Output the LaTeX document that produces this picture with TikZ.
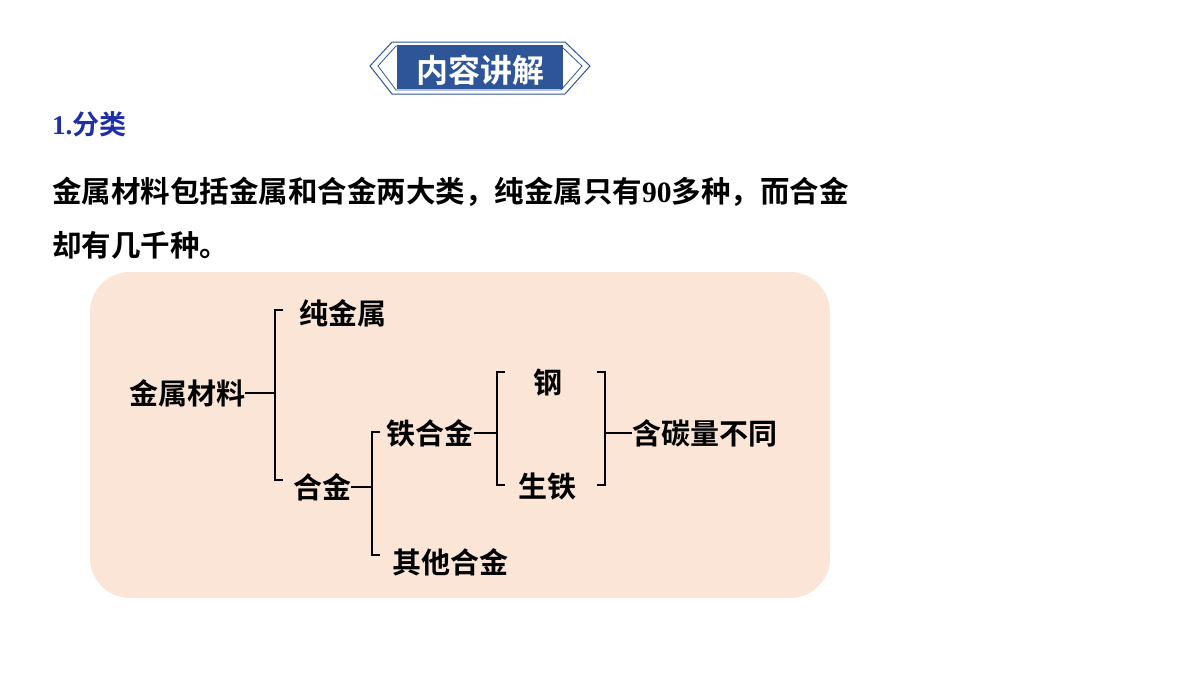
\documentclass[tikz,border=0pt]{standalone}
\usepackage{fontspec}
\newfontfamily\cjk{Noto Sans CJK SC Bold}
\newfontfamily\ser{Liberation Serif}
\definecolor{peach}{HTML}{FBE5D6}
\definecolor{bblue}{HTML}{2E5597}
\definecolor{tblue}{HTML}{1F2FA8}
\begin{document}
\begin{tikzpicture}[x=1pt,y=-1pt,
  lbl/.style={font=\cjk\fontsize{29}{32}\selectfont,inner sep=0pt},
  br/.style={line width=1.3pt}]
\useasboundingbox (0,0) rectangle (1200,675);
% badge
\draw[bblue,line width=1pt,fill=white] (370,66)--(392,42)--(565,42)--(590,66)--(565,94)--(392,94)--cycle;
\draw[bblue,line width=0.8pt] (378,66)--(396,46)--(561,46)--(582,66)--(561,90)--(396,90)--cycle;
\node[fill=bblue,minimum width=166pt,minimum height=44pt,inner sep=0pt] (badge) at (480,67) {};
\node[text=white,font=\cjk\fontsize{32}{36}\selectfont] (bt) at (480,70) {内容讲解};
% heading
\node[anchor=west,text=tblue,font=\cjk\fontsize{27}{30}\selectfont,inner sep=0pt] (h) at (52,124) {{\ser\bfseries 1.}分类};
\node[anchor=west,font=\cjk\fontsize{29.5}{32}\selectfont,inner sep=0pt] (l1) at (52,192) {金属材料包括金属和合金两大类，纯金属只有{\ser\bfseries 90}多种，而合金};
\node[anchor=west,font=\cjk\fontsize{29.5}{32}\selectfont,inner sep=0pt] (l2) at (52,245) {却有几千种。};
% box
\fill[peach,rounded corners=40pt] (90,272) rectangle (830,598);
% tree
\node[lbl] (a) at (187,393) {金属材料};
\node[lbl] (b) at (343,313) {纯金属};
\node[lbl] (c) at (322,487) {合金};
\node[lbl] (d) at (430,433) {铁合金};
\node[lbl] (e) at (450,562) {其他合金};
\node[lbl] (f) at (548,383) {钢};
\node[lbl] (g) at (547,487) {生铁};
\node[lbl] (h2) at (705,433) {含碳量不同};
\coordinate (j1) at (275,393);
\draw[br] (a.east) -- (j1);
\draw[br] (283,310)--(275,310)--(275,480)--(283,480);
\coordinate (j2) at (372,487);
\draw[br] (c.east) -- (j2);
\draw[br] (380,432)--(372,432)--(372,555)--(380,555);
\coordinate (j3) at (497,433);
\draw[br] (d.east) -- (j3);
\draw[br] (505,372)--(497,372)--(497,485)--(505,485);
\draw[br] (597,372)--(605,372)--(605,485)--(597,485);
\coordinate (j4) at (605,433);
\draw[br] (j4) -- (h2.west);
\end{tikzpicture}
\end{document}
